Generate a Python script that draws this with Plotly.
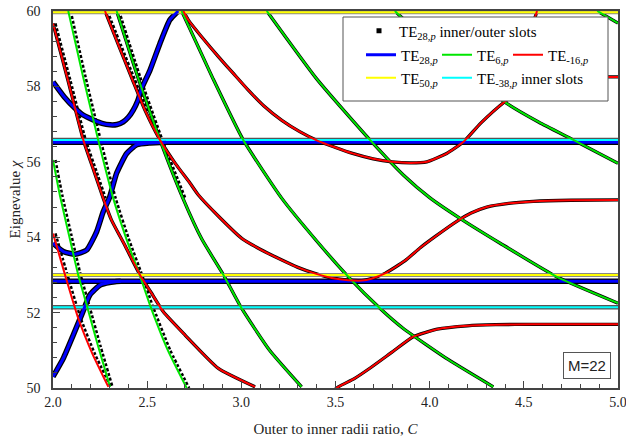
import plotly.graph_objects as go

# ---------------- data ----------------
C_span = [2.0, 5.0]

# C-independent levels
TE50_levels = [53.0, 59.97]
TE_38_levels = [52.14, 56.58]
TE28_levels = [52.83, 56.52]

# TE28,p curves (blue)
b1_x = [2.0, 2.06, 2.117, 2.16, 2.214, 2.26, 2.303, 2.34, 2.373, 2.40, 2.426, 2.45, 2.471, 2.515, 2.568, 2.62, 2.665]
b1_y = [58.12, 57.72, 57.42, 57.24, 57.11, 57.02, 56.98, 56.99, 57.06, 57.18, 57.37, 57.62, 57.95, 58.43, 59.14, 59.76, 60.0]
b2_x = [2.0, 2.055, 2.117, 2.179, 2.232, 2.267, 2.30, 2.338, 2.391, 2.444, 2.515, 2.6]
b2_y = [53.84, 53.62, 53.55, 53.66, 54.15, 54.68, 55.05, 55.7, 56.22, 56.45, 56.5, 56.52]
b3_x = [2.0, 2.055, 2.108, 2.152, 2.196, 2.25, 2.30, 2.36]
b3_y = [50.3, 50.79, 51.41, 51.94, 52.47, 52.73, 52.8, 52.83]

# TE-16,p curves (red)
ra_x = [2.0, 2.08, 2.161, 2.22, 2.267, 2.31, 2.38, 2.462, 2.52, 2.586, 2.70, 2.878, 3.073]
ra_y = [59.67, 58.15, 56.58, 55.72, 55.03, 54.46, 53.8, 53.0, 52.54, 52.02, 51.41, 50.52, 50.03]
rb_x = [2.276, 2.35, 2.42, 2.49, 2.568, 2.65, 2.728, 2.772, 2.88, 3.002, 3.10, 3.196, 3.30, 3.39, 3.48,
        3.568, 3.64, 3.69, 3.763, 3.87, 3.95, 4.03, 4.144, 4.22, 4.303, 4.42, 4.55, 4.75, 5.0]
rb_y = [60.0, 59.07, 58.2, 57.35, 56.58, 55.95, 55.43, 55.12, 54.55, 53.97, 53.68, 53.44, 53.2, 53.04, 52.92,
        52.86, 52.85, 52.9, 53.04, 53.38, 53.72, 54.02, 54.42, 54.64, 54.8, 54.9, 54.95, 54.98, 54.99]
rc_x = [2.0, 2.064, 2.134, 2.21, 2.294]
rc_y = [54.1, 53.0, 51.85, 50.9, 50.03]
rd_x = [3.47, 3.515, 3.60, 3.69, 3.80, 3.913, 4.04, 4.2, 4.35, 4.55, 5.0]
rd_y = [49.85, 50.03, 50.25, 50.55, 50.95, 51.36, 51.56, 51.65, 51.68, 51.69, 51.69]
re_x = [2.692, 2.719, 2.80, 2.878, 2.96, 3.037, 3.12, 3.215, 3.31, 3.409, 3.50, 3.586, 3.70, 3.80, 3.90,
        3.985, 4.09, 4.18, 4.27, 4.40, 4.50, 4.62, 4.75, 4.9, 5.0]
re_y = [60.0, 59.76, 59.25, 58.79, 58.33, 57.9, 57.48, 57.1, 56.8, 56.55, 56.38, 56.23, 56.08, 56.0, 55.97,
        56.0, 56.22, 56.53, 57.02, 57.6, 57.95, 58.15, 58.22, 58.25, 58.25]
rf_x = [4.40, 4.47, 4.52, 4.57]
rf_y = [57.6, 58.4, 59.2, 60.0]

# TE6,p curves (green)
g1_x = [2.0, 2.037, 2.085, 2.134, 2.179, 2.24, 2.303]
g1_y = [56.05, 55.1, 54.05, 53.0, 52.2, 51.1, 50.03]
ga_x = [2.081, 2.16, 2.24, 2.32, 2.39, 2.46, 2.515, 2.61, 2.71]
ga_y = [60.0, 58.25, 56.58, 55.03, 53.95, 53.0, 52.2, 51.0, 50.0]
gb_x = [2.338, 2.45, 2.568, 2.69, 2.79, 2.905, 3.002, 3.15, 3.32]
gb_y = [60.0, 58.25, 56.58, 55.03, 53.95, 53.0, 52.11, 51.0, 50.03]
gc_x = [2.683, 2.85, 3.01, 3.215, 3.40, 3.568, 3.737, 3.86, 4.10, 4.338]
gc_y = [60.0, 58.2, 56.58, 55.03, 53.9, 52.95, 52.11, 51.58, 50.75, 50.03]
gd_x = [3.135, 3.40, 3.683, 3.86, 4.0, 4.161, 4.374, 4.675, 5.0]
gd_y = [60.0, 58.2, 56.58, 55.65, 55.05, 54.5, 53.84, 52.95, 52.25]
ge_x = [3.815, 4.0, 4.2, 4.409, 4.58, 4.763, 5.0]
ge_y = [60.0, 59.15, 58.35, 57.55, 57.05, 56.58, 55.96]
gf_x = [4.89, 5.0]
gf_y = [60.0, 59.68]

# inner/outer slot solutions that separate from the single-mode curves (black)
k1_x = [2.013, 2.093, 2.174, 2.233, 2.28]
k1_y = [59.67, 58.15, 56.58, 55.72, 55.03]
k2_x = [2.094, 2.173, 2.253, 2.333, 2.403, 2.473, 2.528, 2.623, 2.723]
k2_y = [60.0, 58.25, 56.58, 55.03, 53.95, 53.0, 52.2, 51.0, 50.0]
k3_x = [2.289, 2.363, 2.433, 2.503]
k3_y = [60.0, 59.07, 58.2, 57.35]
k4_x = [2.351, 2.463, 2.581, 2.703]
k4_y = [60.0, 58.25, 56.58, 55.03]
k5_x = [2.013, 2.077, 2.147, 2.223, 2.307]
k5_y = [54.1, 53.0, 51.85, 50.9, 50.03]
k6_x = [2.013, 2.05, 2.098, 2.147, 2.192, 2.253, 2.316]
k6_y = [56.05, 55.1, 54.05, 53.0, 52.2, 51.1, 50.03]

x_ticks = [2.0, 2.5, 3.0, 3.5, 4.0, 4.5, 5.0]
y_ticks = [50, 52, 54, 56, 58, 60]

# ---------------- styles ----------------
BLUE = "#0000ff"
GREEN = "#00e600"
RED = "#ff0000"
YELLOW = "#ffff00"
CYAN = "#00ffff"
BLACK = "#000000"
SERIF = "Liberation Serif, Times New Roman, serif"

fig = go.Figure()


def add(x, y, color, width, dash="solid", name=None, legend=None, smooth=True):
    fig.add_trace(go.Scatter(
        x=x, y=y, mode="lines",
        line=dict(color=color, width=width, dash=dash,
                  shape="spline" if smooth else "linear", smoothing=0.5),
        hoverinfo="skip", showlegend=name is not None,
        name=name if name else "", legend=legend if legend else "legend"))


# black outlines of the coupled solutions (underneath)
for xs, ys in [(ra_x, ra_y), (rb_x, rb_y), (rd_x, rd_y), (re_x, re_y), (rf_x, rf_y),
               (gb_x, gb_y), (gc_x, gc_y), (gd_x, gd_y), (ge_x, ge_y), (gf_x, gf_y)]:
    add(xs, ys, BLACK, 3.3)
for xs, ys in [(b1_x, b1_y), (b2_x, b2_y), (b3_x, b3_y)]:
    add(xs, ys, BLACK, 5.5)
for xs, ys in [(k1_x, k1_y), (k2_x, k2_y), (k3_x, k3_y), (k4_x, k4_y), (k5_x, k5_y), (k6_x, k6_y)]:
    add(xs, ys, BLACK, 2.5, dash="3px,2px")
for v in TE28_levels:
    add(C_span, [v, v], BLACK, 5.5, smooth=False)
for v in TE_38_levels:
    add(C_span, [v, v], "#555555", 4.5, smooth=False)
for v in TE50_levels:
    add(C_span, [v, v], "#888888", 4, smooth=False)

# coloured single-mode curves
add(C_span, [TE50_levels[0]] * 2, YELLOW, 2, name="TE<sub>50,<i>p</i></sub>", legend="legend5", smooth=False)
add(C_span, [TE50_levels[1]] * 2, YELLOW, 2, smooth=False)
add(C_span, [TE28_levels[0]] * 2, BLUE, 3, smooth=False)
add(C_span, [TE28_levels[1]] * 2, BLUE, 3, smooth=False)
add(C_span, [TE_38_levels[0]] * 2, CYAN, 2, name="TE<sub>-38,<i>p</i></sub> inner slots", legend="legend6", smooth=False)
add(C_span, [TE_38_levels[1]] * 2, CYAN, 2, smooth=False)

for i, (xs, ys) in enumerate([(b1_x, b1_y), (b2_x, b2_y), (b3_x, b3_y)]):
    add(xs, ys, BLUE, 3, name="TE<sub>28,<i>p</i></sub>" if i == 0 else None, legend="legend2")
for i, (xs, ys) in enumerate([(g1_x, g1_y), (ga_x, ga_y), (gb_x, gb_y), (gc_x, gc_y),
                              (gd_x, gd_y), (ge_x, ge_y), (gf_x, gf_y)]):
    add(xs, ys, GREEN, 2, name="TE<sub>6,<i>p</i></sub>" if i == 0 else None, legend="legend3")
for i, (xs, ys) in enumerate([(ra_x, ra_y), (rb_x, rb_y), (rc_x, rc_y), (rd_x, rd_y),
                              (re_x, re_y), (rf_x, rf_y)]):
    add(xs, ys, RED, 2, name="TE<sub>-16,<i>p</i></sub>" if i == 0 else None, legend="legend4")

# legend entry for the black square markers of the coupled solution
fig.add_trace(go.Scatter(
    x=[None], y=[None], mode="markers",
    marker=dict(symbol="square", size=5, color=BLACK),
    name="TE<sub>28,<i>p</i></sub> inner/outer slots", legend="legend", hoverinfo="skip"))

# ---------------- layout ----------------
L, R, T, B = 53, 8, 11, 56
W, H = 626, 444
PW, PH = W - L - R, H - T - B


def px2paper_x(px):
    return (px - L) / PW


def px2paper_y(py):
    return (H - B - py) / PH


leg_font = dict(family=SERIF, size=15, color="black")


def leg(xpx, ypx):
    return dict(x=px2paper_x(xpx), y=px2paper_y(ypx), xanchor="left", yanchor="middle",
                bgcolor="rgba(0,0,0,0)", borderwidth=0, font=leg_font,
                orientation="v", itemclick=False, itemdoubleclick=False)


axis_common = dict(
    showgrid=False, zeroline=False, showline=True, linecolor="#444444", linewidth=1.5,
    mirror=True, ticks="inside", ticklen=7, tickwidth=1, tickcolor="#444444",
    tickfont=dict(family=SERIF, size=14, color="#222222"), automargin=False,
    ticklabeloverflow="allow",
)

fig.update_layout(
    width=W, height=H,
    margin=dict(l=L, r=R, t=T, b=B, autoexpand=False),
    paper_bgcolor="white", plot_bgcolor="white",
    xaxis=dict(range=[2, 5], tickvals=x_ticks, ticktext=[f"{v:.1f}" for v in x_ticks],
               minor=dict(dtick=0.1, tick0=2.0, ticks="inside", ticklen=4, tickcolor="#444444"),
               title=dict(text="Outer to inner radii ratio, <i>C</i>",
                          font=dict(family=SERIF, size=15, color="#222222"), standoff=15),
               ticklabelstandoff=0, **axis_common),
    yaxis=dict(range=[50, 60], tickvals=y_ticks, ticktext=[str(v) for v in y_ticks],
               minor=dict(dtick=0.4, tick0=50, ticks="inside", ticklen=4, tickcolor="#444444"),
               title=dict(text="Eignevalue <i>χ</i>",
                          font=dict(family=SERIF, size=15, color="#222222"), standoff=2),
               ticklabelstandoff=8, **axis_common),
    legend=leg(359, 31),
    legend2=leg(361, 55),
    legend3=leg(437, 55),
    legend4=leg(508, 55),
    legend5=leg(361, 78),
    legend6=leg(437, 78),
    shapes=[dict(type="rect", xref="paper", yref="paper",
                 x0=px2paper_x(343), x1=px2paper_x(608), y0=px2paper_y(101), y1=px2paper_y(17),
                 fillcolor="white", line=dict(color="#555555", width=1), layer="above")],
    annotations=[dict(text="M=22", xref="paper", yref="paper",
                      x=px2paper_x(587), y=px2paper_y(365.5), xanchor="center", yanchor="middle",
                      showarrow=False, font=dict(family="Liberation Sans", size=15, color="#222222"),
                      bordercolor="#555555", borderwidth=1, borderpad=4, bgcolor="white")],
)

fig.write_html("out.html", config={"displayModeBar": False},
               post_script="document.body.style.margin='0px';")
